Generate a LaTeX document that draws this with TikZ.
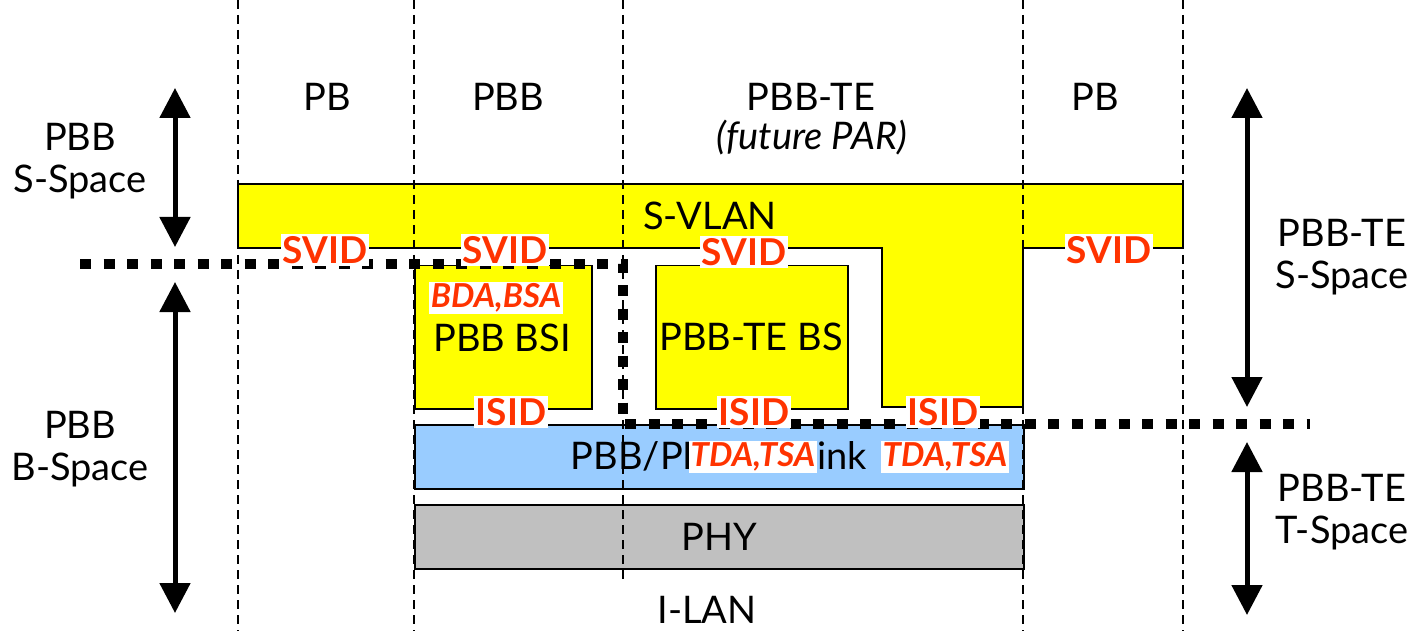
\documentclass[tikz,border=0pt]{standalone}
\usepackage{fontspec}
\setmainfont{Lato}
\usetikzlibrary{arrows.meta,positioning}
\definecolor{svlanyellow}{RGB}{255,255,0}
\definecolor{linkblue}{RGB}{153,204,255}
\definecolor{phygray}{RGB}{192,192,192}
\definecolor{tagred}{RGB}{255,51,0}

\begin{document}
\begin{tikzpicture}[x=1pt,y=-1pt,
    txt/.style={font=\fontsize{38}{42}\selectfont,align=center,inner sep=0pt},
    tag/.style={fill=white,text=tagred,font=\fontsize{37}{40}\selectfont\bfseries,
                inner sep=2pt},
    itag/.style={tag,font=\fontsize{33}{34}\selectfont\bfseries\itshape},
    colline/.style={draw,line width=1.3pt,dash pattern=on 9pt off 6pt},
    box/.style={draw,line width=1.5pt,inner sep=0pt,anchor=north west},
    border/.style={draw,line width=10pt,dash pattern=on 11pt off 12.5pt},
    span/.style={line width=5pt,
                 {Triangle[width=30pt,length=30pt]}-{Triangle[width=30pt,length=30pt]}}
  ]
  \useasboundingbox (0,0) rectangle (1414,631);

  % yellow S-VLAN band with its drop
  \draw[line width=1.5pt,fill=svlanyellow]
    (238,184) -- (1183,184) -- (1183,248) -- (1023,248) -- (1023,407)
    -- (882,407) -- (882,248) -- (238,248) -- cycle;
  \node[txt] (svlan) at (710,216) {S-VLAN};

  \node[box,fill=svlanyellow,minimum width=177pt,minimum height=143pt]
    (bsi) at (414,265) {};
  \node[txt] (bsitxt) at (502,338) {PBB BSI};
  \node[box,fill=svlanyellow,minimum width=192pt,minimum height=143pt]
    (tebs) at (655,265) {};
  \node[txt] (tebstxt) at (751,337) {PBB-TE BS};
  \node[box,fill=linkblue,minimum width=609pt,minimum height=64pt]
    (link) at (414,424) {};
  \node[txt] (linktxt) at (719,456) {PBB/PBB-TE Link};
  \node[box,fill=phygray,minimum width=609pt,minimum height=64pt]
    (phy) at (414,504) {};
  \node[txt] (phytxt) at (719,537) {PHY};

  % column boundaries
  \foreach \cx in {238,414,1023,1183}
    \draw[colline] (\cx,0) -- (\cx,631);
  \draw[colline] (623,0) -- (623,580);

  % space boundary
  \coordinate (sbL) at (80,264);
  \coordinate (sbA) at (623,264);
  \coordinate (sbB) at (623,424);
  \coordinate (sbR) at (1310,424);
  \draw[border] (sbL) -- (sbA) -- (sbB) -- (sbR);

  % column heads
  \node[txt] (hPBa) at (327,97) {PB};
  \node[txt] (hPBB) at (508,97) {PBB};
  \node[txt] (hTE) at (811,97) {PBB-TE};
  \node[txt,font=\fontsize{38}{40}\selectfont\itshape] (hPAR) at (812,138) {(future PAR)};
  \node[txt] (hPBb) at (1095,97) {PB};
  \node[txt] (ilan) at (707,610) {I-LAN};

  % spaces
  \node[txt] (lS) at (80,161) {PBB\\S-Space};
  \node[txt] (lB) at (80,449) {PBB\\B-Space};
  \node[txt] (rS) at (1342,257) {PBB-TE\\S-Space};
  \node[txt] (rT) at (1342,512) {PBB-TE\\T-Space};
  \coordinate (lSa) at (175,88);  \coordinate (lSb) at (175,247);
  \coordinate (lBa) at (175,282); \coordinate (lBb) at (175,613);
  \coordinate (rSa) at (1247,88); \coordinate (rSb) at (1247,407);
  \coordinate (rTa) at (1247,442); \coordinate (rTb) at (1247,615);
  \draw[span] (lSa) -- (lSb);
  \draw[span] (lBa) -- (lBb);
  \draw[span] (rSa) -- (rSb);
  \draw[span] (rTa) -- (rTb);

  % identifiers
  \node[tag] (svid1) at (325,250) {SVID};
  \node[tag] (svid2) at (505,250) {SVID};
  \node[tag] (svid3) at (744,252) {SVID};
  \node[tag] (svid4) at (1109,250) {SVID};
  \node[tag] (isid1) at (511,412) {ISID};
  \node[tag] (isid2) at (754,412) {ISID};
  \node[tag] (isid3) at (943,412) {ISID};
  \node[itag] (bda) at (496,298) {BDA,BSA};
  \node[itag] (tda1) at (753,457) {TDA,TSA};
  \node[itag] (tda2) at (945,457) {TDA,TSA};
\end{tikzpicture}
\end{document}
